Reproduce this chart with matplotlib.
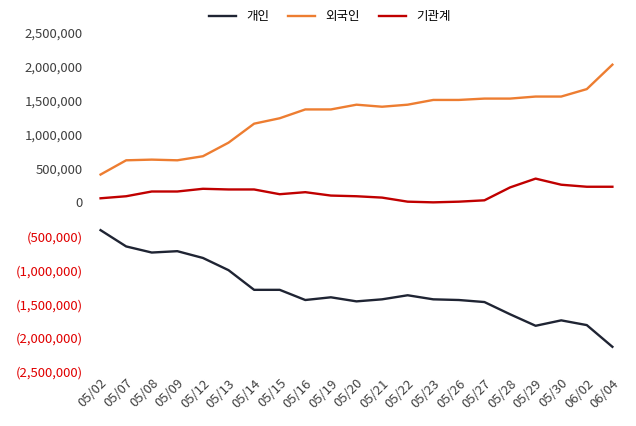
import matplotlib
matplotlib.use("Agg")
import matplotlib.pyplot as plt
from matplotlib import font_manager as fm
from matplotlib.ticker import FuncFormatter

cjk = None
for f in fm.findSystemFonts():
    if "CJK" in f and ("KR" in f or "ttc" in f.lower()):
        cjk = f
        break
if cjk:
    fm.fontManager.addfont(cjk)
    kr_name = fm.FontProperties(fname=cjk).get_name()
else:
    kr_name = "Noto Sans CJK KR"
plt.rcParams["font.family"] = "sans-serif"
plt.rcParams["font.sans-serif"] = [kr_name, "Noto Sans CJK KR", "DejaVu Sans"]

dates = ["05/02","05/07","05/08","05/09","05/12","05/13","05/14","05/15","05/16","05/19","05/20",
         "05/21","05/22","05/23","05/26","05/27","05/28","05/29","05/30","06/02","06/04"]
individual = [-410000,-650000,-740000,-720000,-820000,-1000000,-1290000,-1290000,-1440000,-1400000,-1460000,
              -1430000,-1370000,-1430000,-1440000,-1470000,-1650000,-1820000,-1740000,-1810000,-2130000]
foreign = [410000,620000,630000,620000,680000,880000,1160000,1240000,1370000,1370000,1440000,
           1410000,1440000,1510000,1510000,1530000,1530000,1560000,1560000,1670000,2030000]
institution = [60000,90000,160000,160000,200000,190000,190000,120000,150000,100000,90000,
               70000,10000,0,10000,30000,220000,350000,260000,230000,230000]
series_names = ["개인", "외국인", "기관계"]
ticks = [2500000,2000000,1500000,1000000,500000,0,-500000,-1000000,-1500000,-2000000,-2500000]

fig = plt.figure(figsize=(6.36, 4.26), dpi=100)
ax = fig.add_axes([0.138, 0.127, 0.845, 0.796])
x = range(len(dates))
ax.plot(x, individual, color="#1f2433", lw=1.7, label=series_names[0])
ax.plot(x, foreign, color="#ed7d31", lw=1.7, label=series_names[1])
ax.plot(x, institution, color="#c00000", lw=1.7, label=series_names[2])
ax.set_ylim(-2500000, 2500000)
ax.set_xlim(-0.5, len(dates) - 0.5)
ax.set_yticks(ticks)
ax.yaxis.set_major_formatter(FuncFormatter(lambda v, p: f"{v:,.0f}" if v >= 0 else f"({-v:,.0f})"))
for lab, v in zip(ax.get_yticklabels(), ax.get_yticks()):
    lab.set_color("#e00000" if v < 0 else "#404040")
ax.set_xticks(list(x))
ax.set_xticklabels(dates, rotation=45, ha="right", rotation_mode="anchor", color="#404040")
ax.tick_params(length=0, labelsize=9.5)
for s in ax.spines.values():
    s.set_visible(False)
ax.legend(loc="upper center", bbox_to_anchor=(0.45, 1.1), ncol=3, frameon=False, fontsize=9,
          handlelength=2.2, columnspacing=1.5)
fig.savefig("out.png", dpi=100)
